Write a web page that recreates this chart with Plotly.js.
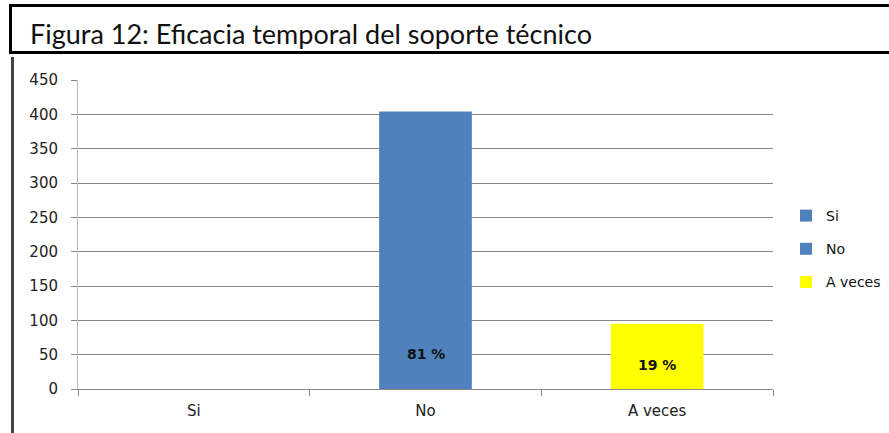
<!DOCTYPE html>
<html>
<head>
<meta charset="utf-8">
<script src="https://cdn.plot.ly/plotly-3.0.1.min.js"></script>
<style>
  html, body { margin: 0; padding: 0; background: #fff; overflow: hidden; }
  #wrap { position: relative; width: 889px; height: 433px; overflow: hidden; }
  #chartDiv { width: 889px; height: 433px; }
  .caja-titulo { position: absolute; left: 9px; top: 4px; width: 930px; height: 50px;
                 border: 3px solid #000; box-sizing: border-box; pointer-events: none; }
  .borde-izq { position: absolute; left: 11px; top: 57px; width: 3px; height: 380px;
               background: #444; pointer-events: none; }
</style>
</head>
<body>
<div id="wrap">
  <div id="chartDiv"></div>
  <div class="caja-titulo"></div>
  <div class="borde-izq"></div>
</div>
<script>
var categorias = ['Si', 'No', 'A veces'];
var valores = [0, 404, 95];
var colores = ['#4F81BD', '#4F81BD', '#FFFF00'];
var etiquetas = ['', '81 %', '19 %'];
var etiquetaShift = [0, 35, 24];

var data = [];
for (var i = 0; i < categorias.length; i++) {
  data.push({
    type: 'bar',
    name: categorias[i],
    legendgroup: 'g' + i,
    x: [categorias[i]],
    y: [valores[i]],
    width: 0.4,
    marker: { color: colores[i] },
    hoverinfo: 'x+y'
  });
}

var anotaciones = [];
for (var i = 0; i < categorias.length; i++) {
  if (!etiquetas[i]) continue;
  anotaciones.push({
    x: categorias[i], y: 0,
    xref: 'x', yref: 'y',
    yshift: etiquetaShift[i],
    text: '<b>' + etiquetas[i] + '</b>',
    showarrow: false,
    font: { family: 'DejaVu Sans', size: 14, color: '#111' }
  });
}

var layout = {
  width: 889,
  height: 433,
  margin: { l: 78, r: 116, t: 80, b: 44 },
  paper_bgcolor: '#fff',
  plot_bgcolor: '#fff',
  showlegend: true,
  barmode: 'overlay',
  title: {
    text: 'Figura 12: Eficacia temporal del soporte técnico',
    font: { family: 'Lato', size: 27, color: '#111' },
    xref: 'container', yref: 'container',
    x: 30 / 889, xanchor: 'left',
    y: 1 - 35 / 433, yanchor: 'middle'
  },
  xaxis: {
    type: 'category',
    showgrid: false,
    showline: true,
    linecolor: '#888',
    linewidth: 1,
    ticks: 'outside',
    tickson: 'boundaries',
    ticklen: 6,
    tickcolor: '#888',
    ticklabelstandoff: 8,
    tickfont: { family: 'DejaVu Sans', size: 15, color: '#222' },
    fixedrange: true
  },
  yaxis: {
    range: [0, 450],
    dtick: 50,
    showgrid: true,
    gridcolor: '#888',
    gridwidth: 1,
    zeroline: false,
    showline: true,
    linecolor: '#bbb',
    ticks: 'outside',
    ticklen: 6,
    tickcolor: '#888',
    ticklabelstandoff: 10,
    tickfont: { family: 'DejaVu Sans', size: 15, color: '#222' },
    fixedrange: true
  },
  legend: {
    xref: 'container', yref: 'container',
    x: 786 / 889,
    y: 1 - 200 / 433,
    xanchor: 'left',
    yanchor: 'top',
    traceorder: 'grouped',
    tracegroupgap: 12,
    itemwidth: 30,
    font: { family: 'DejaVu Sans', size: 14, color: '#111' },
    bgcolor: 'rgba(0,0,0,0)'
  },
  annotations: anotaciones
};

Plotly.newPlot('chartDiv', data, layout, { displayModeBar: false, staticPlot: true });
</script>
</body>
</html>
